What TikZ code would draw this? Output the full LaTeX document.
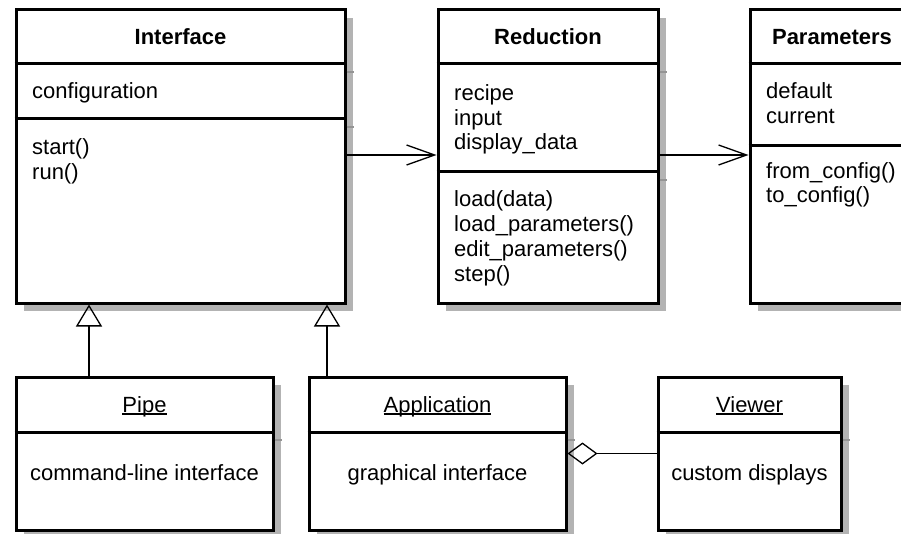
\documentclass[tikz,border=0pt]{standalone}
\usepackage{fontspec}
\setmainfont{Liberation Sans}
\usetikzlibrary{arrows.meta,shadows}
\definecolor{shadowgray}{RGB}{179,179,179}
\definecolor{shadowline}{RGB}{148,148,148}
\newcommand{\umlsize}{\fontsize{22}{24.9}\selectfont}
\newcommand{\clsname}[1]{\setbox0\hbox{#1}\rlap{\rule[-2.6pt]{\wd0}{1.4pt}}\box0}
\tikzset{
  classbox/.style={draw, line width=3pt, fill=white, inner sep=0pt,
    drop shadow={shadow xshift=8pt, shadow yshift=-8pt, fill=shadowgray, opacity=1}},
  divider/.style={line width=3pt},
  shadowtick/.style={draw=shadowline, line width=1.3pt},
  clstitle/.style={anchor=base, font=\umlsize\bfseries},
  members/.style={anchor=base west, align=left, inner sep=0pt},
  assoc/.style={line width=1.3pt, -{Straight Barb[length=28pt, width=20pt]}},
  inherit/.style={line width=1.3pt, -{Triangle[open, length=22pt, width=26pt]}},
  aggr/.style={line width=1.3pt, {Diamond[open, length=30pt, width=22pt]}-}
}
\begin{document}
\begin{tikzpicture}[x=1pt, y=-1pt, font=\umlsize]
    \useasboundingbox (0,0) rectangle (901,534);
    \clip (0,0) rectangle (901,534);
    \fill[white] (0,0) rectangle (901,534);

    % Class boxes
    \node[classbox, minimum width=329pt, minimum height=293pt] (iface) at (180.5,156.5) {};
    \node[classbox, minimum width=220pt, minimum height=293pt] (red) at (548,156.5) {};
    \node[classbox, minimum width=164pt, minimum height=293pt] (par) at (832,156.5) {};
    \node[classbox, minimum width=257pt, minimum height=153pt] (pipe) at (144.5,453.5) {};
    \node[classbox, minimum width=257pt, minimum height=153pt] (app) at (437.5,453.5) {};
    \node[classbox, minimum width=183pt, minimum height=153pt] (viewer) at (749.5,453.5) {};

    % Compartment lines
    \draw[divider] (iface.west |- 0,64) -- (iface.east |- 0,64);
    \draw[divider] (iface.west |- 0,119) -- (iface.east |- 0,119);
    \draw[divider] (red.west |- 0,64) -- (red.east |- 0,64);
    \draw[divider] (red.west |- 0,172) -- (red.east |- 0,172);
    \draw[divider] (par.west |- 0,64) -- (par.east |- 0,64);
    \draw[divider] (par.west |- 0,146) -- (par.east |- 0,146);
    \draw[divider] (pipe.west |- 0,432) -- (pipe.east |- 0,432);
    \draw[divider] (app.west |- 0,432) -- (app.east |- 0,432);
    \draw[divider] (viewer.west |- 0,432) -- (viewer.east |- 0,432);

    % Shadows of the compartment lines
    \draw[shadowtick] (iface.east |- 0,72) -- ++(7,0);
    \draw[shadowtick] (iface.east |- 0,127) -- ++(7,0);
    \draw[shadowtick] (red.east |- 0,72) -- ++(7,0);
    \draw[shadowtick] (red.east |- 0,180) -- ++(7,0);
    \draw[shadowtick] (pipe.east |- 0,440) -- ++(7,0);
    \draw[shadowtick] (app.east |- 0,440) -- ++(7,0);
    \draw[shadowtick] (viewer.east |- 0,440) -- ++(7,0);

    % Class names
    \node[clstitle] (ifacename) at (180.5,45) {Interface};
    \node[clstitle] (redname) at (548,45) {Reduction};
    \node[clstitle] (parname) at (832,45) {Parameters};
    \node[anchor=base] (pipename) at (144.5,412) {\clsname{Pipe}};
    \node[anchor=base] (appname) at (437.5,412) {\clsname{Application}};
    \node[anchor=base] (viewername) at (749.5,412) {\clsname{Viewer}};

    % Attributes and operations (placed by their last line)
    \node[members] (ifaceattr) at (32,99) {configuration};
    \node[members] (ifaceops) at (32,179.5) {start()\\run()};
    \node[members] (redattr) at (454,150) {recipe\\input\\display\_data};
    \node[members] (redops) at (454,281) {load(data)\\load\_parameters()\\edit\_parameters()\\step()};
    \node[members] (parattr) at (766,123.5) {default\\current};
    \node[members] (parops) at (766,203) {from\_config()\\to\_config()};
    \node[anchor=base] (pipebody) at (144.5,480) {command-line interface};
    \node[anchor=base] (appbody) at (437.5,480) {graphical interface};
    \node[anchor=base] (viewerbody) at (749.5,480) {custom displays};

    % Relations
    \draw[assoc] (iface.east |- 0,155) -- (red.west |- 0,155);
    \draw[assoc] (red.east |- 0,155) -- (par.west |- 0,155);
    \draw[inherit] (pipe.north -| 89,0) -- (iface.south -| 89,0);
    \draw[inherit] (app.north -| 327,0) -- (iface.south -| 327,0);
    \draw[aggr] (app.east) -- (viewer.west);

\end{tikzpicture}
\end{document}
